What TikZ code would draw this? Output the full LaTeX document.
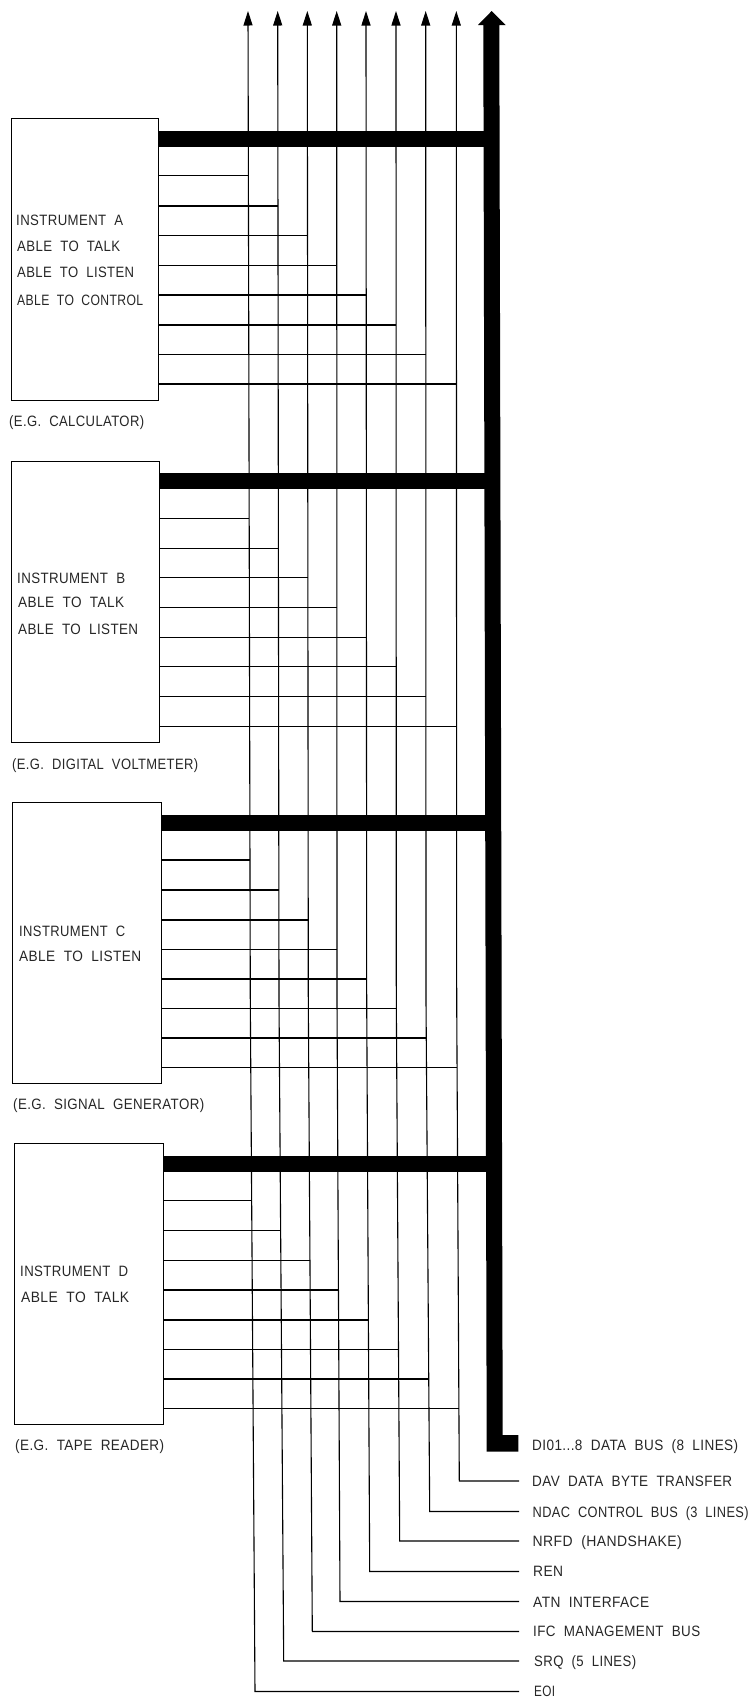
\documentclass[tikz,border=0pt]{standalone}
\usepackage{fontspec}
\setmainfont{Liberation Sans}[WordSpace=2.0,LetterSpace=3]
\usetikzlibrary{arrows.meta,calc}
\newcommand\fitw[2]{\resizebox{#1pt}{\height}{#2}}
\tikzset{
  wire/.style={line width=1.1pt,black},
  rise/.style={wire,-{Triangle[length=14.5pt,width=9pt]}},
  bus/.style={line width=16pt,black},
  instr/.style={draw,line width=1.2pt,rectangle,inner sep=0pt,anchor=north west},
  lbl/.style={anchor=base west,inner sep=0pt,font=\fontsize{15}{15}\selectfont,text=black!85}
}
\begin{document}
\begin{tikzpicture}[x=1pt,y=-1pt]
\useasboundingbox (0,0) rectangle (752,1698);
% rising lines: top tips, slight drift point, bottom corners
\foreach \n/\xt/\xm/\xb/\yb in {1/248/250.3/255/1691.5,2/277.7/279/283.7/1661,3/307.3/308.3/312.3/1631.5,4/336.7/337/340/1601.5,5/366/366.7/369.7/1571.5,6/396/396.3/399.7/1541,7/425.7/426/429.7/1511.5,8/456.3/456.7/459.3/1481}{
  \coordinate (t\n) at (\xt,11);
  \coordinate (m\n) at (\xm,1000);
  \coordinate (b\n) at (\xb,\yb);
  \coordinate (e\n) at (519,\yb);
  \draw[rise] (e\n) -- (b\n) -- (m\n) -- (t\n);
}
% main data bus
\coordinate (tip) at (491.7,11);
\fill[black] (tip) -- (505.7,25) -- (499.3,25) -- (502.7,1435) -- (518.3,1435) -- (518.3,1451.7) -- (486.7,1451.7) -- (483.3,25) -- (478,25) -- cycle;
% instruments
\node[instr,minimum width=147.5pt,minimum height=282pt] (A) at (10.5,118) {};
\node[instr,minimum width=148pt,minimum height=281pt] (B) at (11,461) {};
\node[instr,minimum width=148.5pt,minimum height=281pt] (C) at (12,802) {};
\node[instr,minimum width=148.5pt,minimum height=280.5pt] (D) at (14,1143) {};
% branch buses and wires
\foreach \inst/\ybus/\ya/\yb/\yc/\yd/\ye/\yf/\yg/\yh in {
  A/138.5/175.5/206/235.5/265.5/295/325/354.5/384,
  B/481/518.7/548.3/577.7/607.7/637.3/666.7/696.3/726.3,
  C/823/860/890/920/949.7/979/1008.3/1038/1067.7,
  D/1163.7/1200.7/1230.3/1260.3/1290/1320/1349.3/1379/1408.3}{
  \coordinate (bus\inst) at (490,\ybus);
  \draw[bus] (\inst.east |- bus\inst) -- (bus\inst);
  \foreach \n/\y in {1/\ya,2/\yb,3/\yc,4/\yd,5/\ye,6/\yf,7/\yg,8/\yh}{
    \pgfmathsetmacro\ybot{{1691.5,1661,1631.5,1601.5,1571.5,1541,1511.5,1481}[\n-1]}
    \pgfmathparse{\y<1000 ? 0 : 1}
    \ifnum\pgfmathresult=0
      \pgfmathsetmacro\frac{(\y-11)/989}
      \coordinate (j) at ($(t\n)!\frac!(m\n)$);
    \else
      \pgfmathsetmacro\frac{(\y-1000)/(\ybot-1000)}
      \coordinate (j) at ($(m\n)!\frac!(b\n)$);
    \fi
    \draw[wire] (\inst.east |- j) -- (j);
  }
}
% labels
\node[lbl] (a1) at (16,225) {\fitw{107}{INSTRUMENT A}};
\node[lbl] (a2) at (17,251.7) {\fitw{103}{ABLE TO TALK}};
\node[lbl] (a3) at (17,277.7) {\fitw{117}{ABLE TO LISTEN}};
\node[lbl] (a4) at (17,305) {\fitw{126}{ABLE TO CONTROL}};
\node[lbl] (a5) at (9,426.7) {\fitw{135}{(E.G. CALCULATOR)}};
\node[lbl] (b1) at (17,583) {\fitw{108}{INSTRUMENT B}};
\node[lbl] (b2) at (18,607.7) {\fitw{106}{ABLE TO TALK}};
\node[lbl] (b3) at (18,634) {\fitw{120}{ABLE TO LISTEN}};
\node[lbl] (b4) at (12,769) {\fitw{186}{(E.G. DIGITAL VOLTMETER)}};
\node[lbl] (c1) at (19,936) {\fitw{106}{INSTRUMENT C}};
\node[lbl] (c2) at (19,961) {\fitw{122}{ABLE TO LISTEN}};
\node[lbl] (c3) at (13,1109) {\fitw{191}{(E.G. SIGNAL GENERATOR)}};
\node[lbl] (d1) at (20,1276.7) {\fitw{108}{INSTRUMENT D}};
\node[lbl] (d2) at (21,1302.3) {\fitw{108}{ABLE TO TALK}};
\node[lbl] (d3) at (15,1450.7) {\fitw{149}{(E.G. TAPE READER)}};
\node[lbl] (l0) at (532,1450) {\fitw{206}{DI01...8 DATA BUS (8 LINES)}};
\node[lbl] (l1) at (532,1486.7) {\fitw{200}{DAV DATA BYTE TRANSFER}};
\node[lbl] (l2) at (532.5,1517.7) {\fitw{216}{NDAC CONTROL BUS (3 LINES)}};
\node[lbl] (l3) at (532.5,1546.7) {\fitw{149}{NRFD (HANDSHAKE)}};
\node[lbl] (l4) at (533,1576.7) {\fitw{30}{REN}};
\node[lbl] (l5) at (533,1607.3) {\fitw{116}{ATN INTERFACE}};
\node[lbl] (l6) at (533,1636.7) {\fitw{167}{IFC MANAGEMENT BUS}};
\node[lbl] (l7) at (534,1666.7) {\fitw{102}{SRQ (5 LINES)}};
\node[lbl] (l8) at (534,1696.7) {\fitw{21}{EOI}};
\end{tikzpicture}
\end{document}
